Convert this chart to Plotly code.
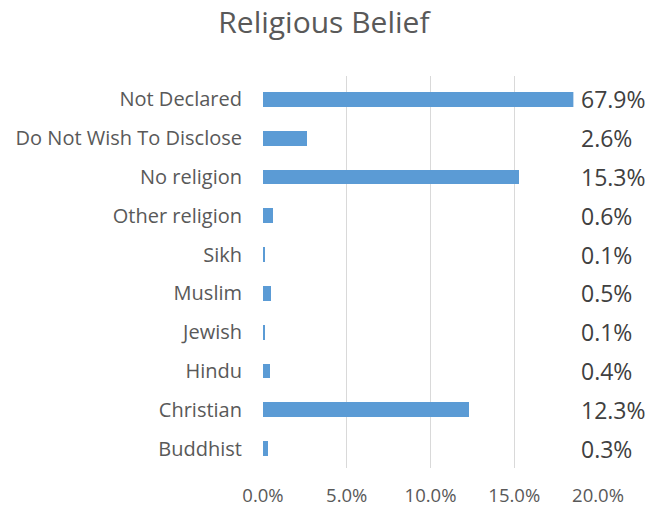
import plotly.graph_objects as go

# Religious belief breakdown (share of respondents, %)
categories = ["Not Declared", "Do Not Wish To Disclose", "No religion", "Other religion",
              "Sikh", "Muslim", "Jewish", "Hindu", "Christian", "Buddhist"]
values = [67.9, 2.6, 15.3, 0.6, 0.1, 0.5, 0.1, 0.4, 12.3, 0.3]
tick_values = [0, 5, 10, 15, 20]
tick_labels = ["0.0%", "5.0%", "10.0%", "15.0%", "20.0%"]

bar_color = "#5B9BD5"
text_grey = "#595959"
font_family = "Open Sans, sans-serif"

axis_max = 20.0
visible_max = 18.53   # plot area stops short of the last tick
label_pos = 18.88     # value labels sit in the right-hand column

fig = go.Figure()
fig.add_trace(go.Bar(
    x=values, y=categories, orientation="h",
    marker=dict(color=bar_color, line=dict(width=0)),
    width=0.38, xaxis="x", yaxis="y", hoverinfo="x+y",
))
# invisible helper trace so the tick-label axis is laid out
fig.add_trace(go.Scatter(
    x=[0, axis_max], y=[categories[0], categories[0]],
    mode="markers", marker=dict(opacity=0), xaxis="x2", yaxis="y",
    hoverinfo="skip", showlegend=False,
))

annotations = []
for cat, v in zip(categories, values):
    annotations.append(dict(
        x=label_pos, y=cat, xref="x2", yref="y", text=f"{v:.1f}%",
        showarrow=False, xanchor="left", yanchor="middle", yshift=0,
        font=dict(family=font_family, size=23, color="#404040"),
    ))

fig.update_layout(
    width=661, height=514,
    margin=dict(l=263, r=63, t=76, b=46),
    paper_bgcolor="white", plot_bgcolor="rgba(0,0,0,0)",
    showlegend=False,
    bargap=0,
    title=dict(text="Religious Belief", x=0.49, xref="container", xanchor="center",
               y=0.957, yanchor="middle",
               font=dict(family=font_family, size=30, color=text_grey)),
    xaxis=dict(
        domain=[0, visible_max / axis_max], range=[0, visible_max],
        tickvals=tick_values[:-1], showticklabels=False,
        showgrid=True, gridcolor="#D9D9D9", gridwidth=1.3,
        zeroline=False, showline=False, fixedrange=True, automargin=False,
    ),
    xaxis2=dict(
        domain=[0, 1], range=[0, axis_max], anchor="y",
        tickvals=tick_values, ticktext=tick_labels,
        showgrid=False, zeroline=False, showline=False, ticks="",
        tickfont=dict(family=font_family, size=18.5, color=text_grey),
        ticklabelstandoff=14, fixedrange=True, automargin=False,
    ),
    yaxis=dict(
        categoryorder="array", categoryarray=categories[::-1],
        showgrid=False, zeroline=False, showline=False, ticks="",
        tickfont=dict(family=font_family, size=20, color=text_grey),
        ticklabelstandoff=20, fixedrange=True, automargin=False,
    ),
    annotations=annotations,
)

fig.write_html("out.html")
